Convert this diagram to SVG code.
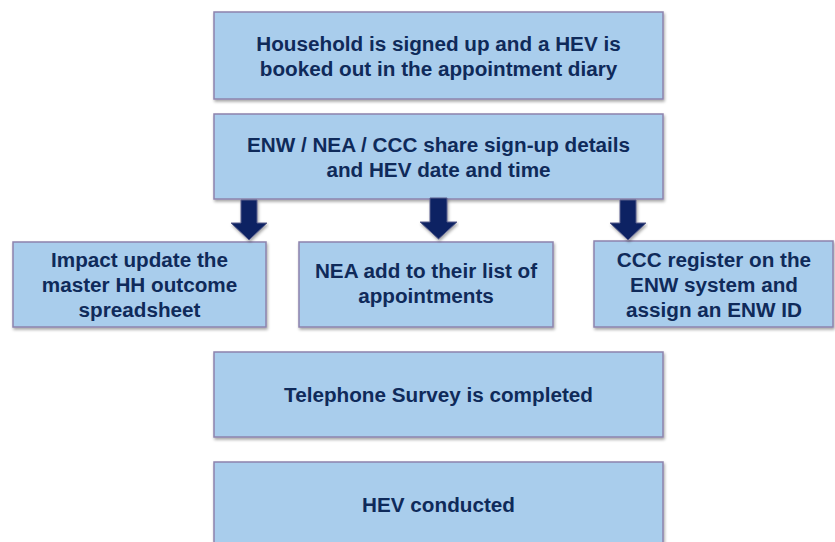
<svg xmlns="http://www.w3.org/2000/svg" width="835" height="542" viewBox="0 0 835 542">
  <defs>
    <filter id="shadow" x="-5%" y="-10%" width="110%" height="125%">
      <feDropShadow dx="1" dy="2" stdDeviation="1.5" flood-color="#000" flood-opacity="0.35"/>
    </filter>
    <style>
      .box { fill: #a9cdec; stroke: #8d83ad; stroke-width: 1.5; filter: url(#shadow); }
      .lbl { font-family: "Liberation Sans", Arial, sans-serif; font-weight: bold; font-size: 20.7px; fill: #0f2a5a; text-anchor: middle; }
      .arrow { fill: #0a2463; stroke: #5a5d8c; stroke-width: 1; filter: url(#shadow); }
    </style>
  </defs>
  <rect width="835" height="542" fill="#ffffff"/>

  <g id="signup">
    <rect class="box" x="214" y="12" width="449" height="87"/>
    <text class="lbl" x="438.5" y="51">Household is signed up and a HEV is</text>
    <text class="lbl" x="438.5" y="76">booked out in the appointment diary</text>
  </g>

  <g id="share">
    <rect class="box" x="214" y="114" width="449" height="85"/>
    <text class="lbl" x="438.5" y="152">ENW / NEA / CCC share sign-up details</text>
    <text class="lbl" x="438.5" y="177">and HEV date and time</text>
  </g>

  <g id="impact">
    <rect class="box" x="13" y="242" width="253" height="85"/>
    <text class="lbl" x="139.5" y="267">Impact update the</text>
    <text class="lbl" x="139.5" y="292">master HH outcome</text>
    <text class="lbl" x="139.5" y="317">spreadsheet</text>
  </g>

  <g id="nea">
    <rect class="box" x="299" y="242" width="254" height="85"/>
    <text class="lbl" x="426" y="278">NEA add to their list of</text>
    <text class="lbl" x="426" y="303">appointments</text>
  </g>

  <g id="ccc">
    <rect class="box" x="594" y="241" width="239" height="86"/>
    <text class="lbl" x="714" y="267">CCC register on the</text>
    <text class="lbl" x="714" y="292">ENW system and</text>
    <text class="lbl" x="714" y="317">assign an ENW ID</text>
  </g>

  <g id="survey">
    <rect class="box" x="214" y="352" width="449" height="85"/>
    <text class="lbl" x="438.5" y="402">Telephone Survey is completed</text>
  </g>

  <g id="hev">
    <rect class="box" x="214" y="462" width="449" height="95"/>
    <text class="lbl" x="438.5" y="512">HEV conducted</text>
  </g>

  <g id="connectors">
    <path class="arrow" d="M241,200 H257 V223 H267 L249,240 L231,223 H241 Z"/>
    <path class="arrow" d="M430,198 H447 V222 H457 L438.5,239 L420,222 H430 Z"/>
    <path class="arrow" d="M620,200 H636 V223 H646 L628,240 L610,223 H620 Z"/>
  </g>
</svg>
